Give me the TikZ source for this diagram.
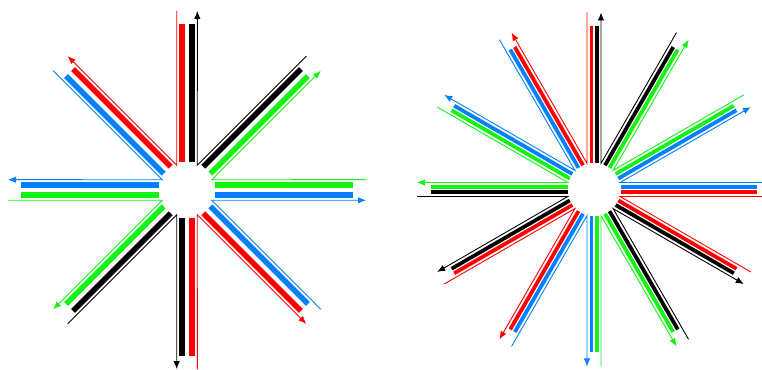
\documentclass[tikz,border=0pt]{standalone}
\usepackage{xcolor}
\usepackage{tikz}
\usetikzlibrary{arrows.meta}
\definecolor{rayred}{RGB}{255,0,0}
\definecolor{rayblue}{RGB}{0,128,255}
\definecolor{raygreen}{RGB}{20,242,20}

\begin{document}
\begin{tikzpicture}[x=1pt,y=1pt,
  bar/.style={line width=5.5pt},
  smallbar/.style={line width=3.8pt},
  flow/.style={line width=0.9pt,line join=miter},
  arr/.style={-{Latex[length=8pt,width=6.5pt]}}]
  \useasboundingbox (0,0) rectangle (762,369);
  \coordinate (L) at (187,179);
  \coordinate (R) at (594,179.5);
  % left star, 8 rays
  \begin{scope}[shift={(L)}]
  \foreach \a/\co/\ci in {0/rayblue/raygreen,45/raygreen/black,90/black/rayred,135/rayred/rayblue,
    180/rayblue/raygreen,225/raygreen/black,270/black/rayred,315/rayred/rayblue}{
    \draw[bar,\ci]([shift={(\a+90:5)}]\a:28)--([shift={(\a+90:5)}]\a:166);
    \draw[bar,\co]([shift={(\a-90:5)}]\a:28)--([shift={(\a-90:5)}]\a:166);
    \draw[flow,arr,\ci]([shift={(\a+90:10.3)}]\a:179)--(\a+22.5:26.9)--([shift={(\a-45:10.3)}]\a+45:179);
  }
  \end{scope}
  % right star, 12 rays
  \begin{scope}[shift={(R)}]
  \foreach \a/\co/\ci in {0/rayred/rayblue,30/rayblue/raygreen,60/raygreen/black,90/black/rayred,
    120/rayred/rayblue,150/rayblue/raygreen,180/raygreen/black,210/black/rayred,
    240/rayred/rayblue,270/rayblue/raygreen,300/raygreen/black,330/black/rayred}{
    \draw[smallbar,\ci]([shift={(\a+90:2.6)}]\a:26.5)--([shift={(\a+90:2.6)}]\a:163);
    \draw[smallbar,\co]([shift={(\a-90:2.6)}]\a:26.5)--([shift={(\a-90:2.6)}]\a:163);
    \draw[flow,arr,\ci]([shift={(\a+90:7)}]\a:177)--(\a+15:27.05)--([shift={(\a-60:7)}]\a+30:177);
  }
  \end{scope}
\end{tikzpicture}
\end{document}
